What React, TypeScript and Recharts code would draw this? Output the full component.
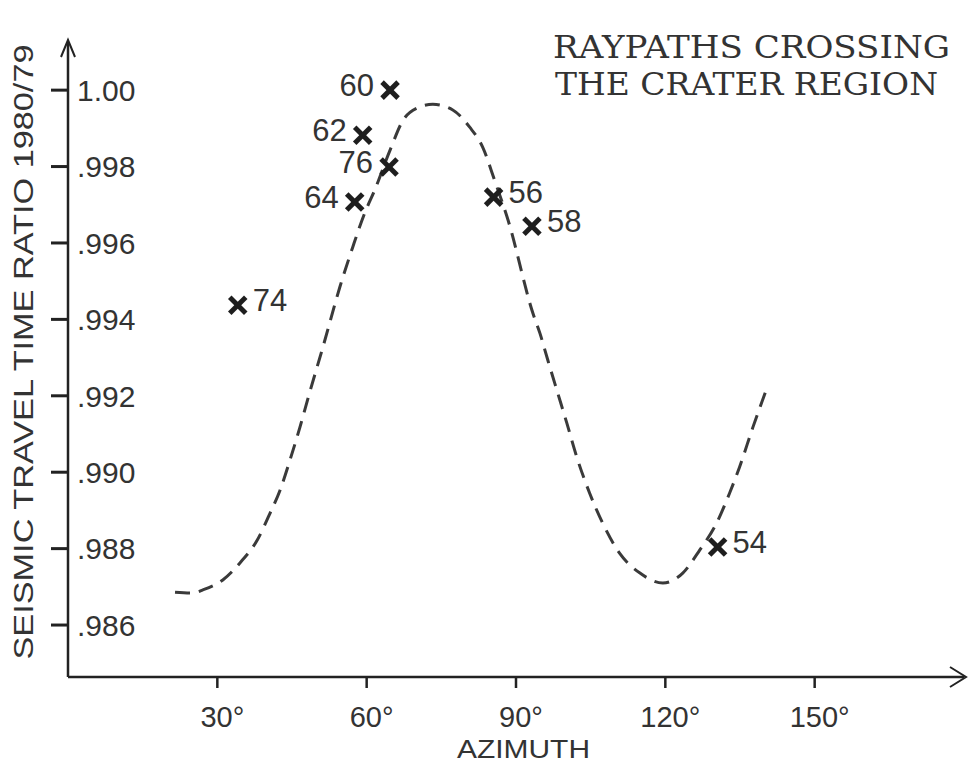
import React from "react";
import { ComposedChart, Line, Scatter, XAxis, YAxis } from "recharts";

const AZIMUTH_TICKS = [30, 60, 90, 120, 150];
const RATIO_TICKS = [0.986, 0.988, 0.99, 0.992, 0.994, 0.996, 0.998, 1.0];

// dashed fitted curve through the crater raypaths
const curveAzimuth = [
  21.5, 25.1, 27.1, 31.1, 34.5, 38.0, 40.6, 42.6, 44.6, 46.6, 48.4, 51.2, 54.6,
  57.2, 59.6, 61.6, 64.7, 67.3, 70.1, 73.3, 77.3, 80.7, 83.3, 85.7, 88.4, 93.4,
  94.8, 96.4, 98.2, 100.2, 102.2, 104.8, 107.4, 110.8, 114.9, 119.5, 123.5,
  126.9, 130.3, 132.9, 134.9, 137.6, 140.4,
];
const curveRatio = [
  0.98686, 0.98684, 0.98692, 0.98718, 0.98762, 0.98822, 0.98893, 0.98953,
  0.99032, 0.99118, 0.99202, 0.99327, 0.99484, 0.99589, 0.99678, 0.99738,
  0.99843, 0.99921, 0.99953, 0.99963, 0.99948, 0.99903, 0.99851, 0.99764,
  0.9966, 0.99416, 0.99364, 0.99293, 0.99215, 0.99129, 0.9904, 0.98945,
  0.98867, 0.98788, 0.98736, 0.9871, 0.98736, 0.98796, 0.98867, 0.98945,
  0.99013, 0.99118, 0.9922,
];

// measured raypaths
const pathIds = ["60", "62", "76", "64", "74", "56", "58", "54"];
const pathAzimuth = [64.7, 59.2, 64.5, 57.6, 34.1, 85.5, 93.2, 130.5];
const pathRatio = [1.0, 0.99882, 0.99799, 0.99707, 0.99437, 0.9972, 0.99644, 0.98804];
const labelSide = ["left", "left", "left", "left", "right", "right", "right", "right"];

const curveData = curveAzimuth.map((az, i) => ({ az, ratio: curveRatio[i] }));
const pathData = pathIds.map((id, i) => ({
  id,
  az: pathAzimuth[i],
  ratio: pathRatio[i],
  side: labelSide[i],
}));

const W = 972;
const H = 763;
const LEFT = 67;
const TOP = 42;
const RIGHT = 8;
const XAXIS_H = 86;
const INK = "#222";
const SANS = "'Liberation Sans', Arial, sans-serif";
const Y_TICK = 17;
const X_TICK = 11;

function CrossMark(props: any) {
  const { cx, cy, payload } = props;
  const s = 8;
  const left = payload.side === "left";
  return (
    <g>
      <line x1={cx - s} y1={cy - s} x2={cx + s} y2={cy + s} stroke="#1e1e1e" strokeWidth={5} />
      <line x1={cx - s} y1={cy + s} x2={cx + s} y2={cy - s} stroke="#1e1e1e" strokeWidth={5} />
      <text
        x={left ? cx - 16 : cx + 15}
        y={cy + 6}
        textAnchor={left ? "end" : "start"}
        fontFamily={SANS}
        fontSize={31}
        fill="#333"
      >
        {payload.id}
      </text>
    </g>
  );
}

// tick mark sticks out left of the axis, label sits inside the plot
function RatioTick(props: any) {
  const { x, y, payload } = props;
  const v = payload.value;
  const label = v >= 1 ? "1.00" : v.toFixed(3).replace(/^0/, "");
  return (
    <g>
      <path d={`M${x},${y}H${x + Y_TICK}`} stroke={INK} strokeWidth={3} fill="none" />
      <text x={x + Y_TICK + 9} y={y} dy="0.36em" textAnchor="start" fontFamily={SANS} fontSize={30} fill="#333">
        {label}
      </text>
    </g>
  );
}

function AzimuthTick(props: any) {
  const { x, y, payload } = props;
  return (
    <g>
      <path d={`M${x},${y - X_TICK}V${y}`} stroke={INK} strokeWidth={2.5} fill="none" />
      <text x={x + 5} y={y} dy="1.35em" textAnchor="middle" fontFamily={SANS} fontSize={29} fill="#333">
        {`${payload.value}°`}
      </text>
    </g>
  );
}

export default function App() {
  const axisBottom = H - XAXIS_H;
  const axisRight = W - RIGHT;
  return (
    <div style={{ position: "absolute", left: 0, top: 0, width: W, height: H, background: "#fff" }}>
      <ComposedChart
        width={W}
        height={H}
        margin={{ top: TOP, right: RIGHT, left: LEFT, bottom: 0 }}
      >
        <XAxis
          type="number"
          dataKey="az"
          domain={[0, 180]}
          ticks={AZIMUTH_TICKS}
          height={XAXIS_H}
          allowDataOverflow
          axisLine={{ stroke: INK, strokeWidth: 2.5 }}
          tickLine={false}
          tickSize={X_TICK}
          tickMargin={0}
          tick={<AzimuthTick />}
        />
        <YAxis
          type="number"
          dataKey="ratio"
          domain={[0.98464, 1.00126]}
          ticks={RATIO_TICKS}
          width={1}
          allowDataOverflow
          axisLine={{ stroke: INK, strokeWidth: 2.5 }}
          tickLine={false}
          tickSize={Y_TICK}
          tickMargin={0}
          tick={<RatioTick />}
        />
        <Line
          data={curveData}
          dataKey="ratio"
          type="monotone"
          dot={false}
          stroke="#3a3a3a"
          strokeWidth={3}
          strokeDasharray="15 9"
          isAnimationActive={false}
        />
        <Scatter data={pathData} dataKey="ratio" shape={<CrossMark />} isAnimationActive={false} />
      </ComposedChart>
      <svg
        width={W}
        height={H}
        style={{ position: "absolute", left: 0, top: 0, pointerEvents: "none" }}
      >
        {/* axis arrowheads */}
        <polyline
          points={`${LEFT + 1 - 7},${TOP + 15} ${LEFT + 1},${TOP - 2} ${LEFT + 1 + 7},${TOP + 15}`}
          fill="none"
          stroke={INK}
          strokeWidth={2}
        />
        <polyline
          points={`${axisRight - 14},${axisBottom - 10} ${axisRight + 2},${axisBottom} ${axisRight - 14},${axisBottom + 10}`}
          fill="none"
          stroke={INK}
          strokeWidth={2}
        />
        <text
          transform="translate(33, 352) rotate(-90)"
          textAnchor="middle"
          fontFamily={SANS}
          fontSize={28}
          fill="#333"
          textLength={615}
          lengthAdjust="spacingAndGlyphs"
        >
          SEISMIC TRAVEL TIME RATIO 1980/79
        </text>
        <text
          x={457}
          y={758}
          fontFamily={SANS}
          fontSize={26}
          fill="#333"
          textLength={133}
          lengthAdjust="spacingAndGlyphs"
        >
          AZIMUTH
        </text>
        <text
          x={553}
          y={58}
          fontFamily="'DejaVu Serif', serif"
          fontSize={32}
          fill="#333"
          textLength={397}
          lengthAdjust="spacingAndGlyphs"
        >
          RAYPATHS CROSSING
        </text>
        <text
          x={555}
          y={95}
          fontFamily="'DejaVu Serif', serif"
          fontSize={32}
          fill="#333"
          textLength={383}
          lengthAdjust="spacingAndGlyphs"
        >
          THE CRATER REGION
        </text>
      </svg>
    </div>
  );
}
